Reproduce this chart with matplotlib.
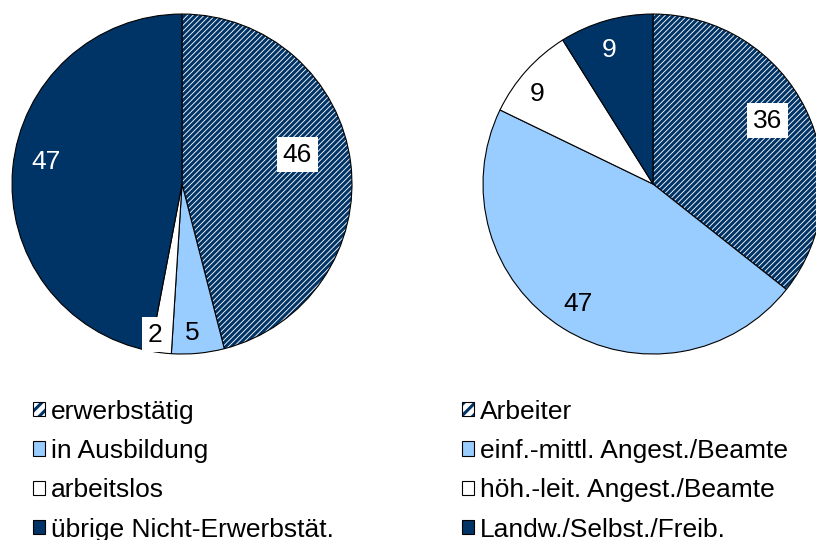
import matplotlib.pyplot as plt
import numpy as np
from matplotlib.patches import Patch
from matplotlib.colors import to_rgba

plt.rcParams['font.family'] = ['Liberation Sans', 'DejaVu Sans']
plt.rcParams['hatch.linewidth'] = 2.2

navy = '#003366'
hellblau = '#99CCFF'

# linkes Diagramm
labels_l = ['erwerbstätig', 'in Ausbildung', 'arbeitslos', 'übrige Nicht-Erwerbstät.']
werte_l = [46, 5, 2, 47]
farben_l = ['white', hellblau, 'white', navy]
hatch_l = ['//////', None, None, None]
textfarbe_l = ['black', 'black', 'black', 'white']
box_l = [True, False, True, False]
abstand_l = [0.70, 0.88, 0.90, 0.81]
winkel_l = [7, -1.6, -3, -3.7]

# rechtes Diagramm
labels_r = ['Arbeiter', 'einf.-mittl. Angest./Beamte', 'höh.-leit. Angest./Beamte', 'Landw./Selbst./Freib.']
werte_r = [36, 47, 9, 9]
farben_r = ['white', hellblau, 'white', navy]
hatch_r = ['//////', None, None, None]
textfarbe_r = ['black', 'black', 'black', 'white']
box_r = [True, False, False, False]
abstand_r = [0.77, 0.83, 0.86, 0.83]
winkel_r = [3, 0, 4, 2]

fig = plt.figure(figsize=(8.16, 5.4), dpi=100)


def torte(ax, werte, farben, hatches, textfarben, boxen, abstaende, winkel):
    wedges, _ = ax.pie(werte, colors=farben, startangle=90, counterclock=False,
                       wedgeprops=dict(edgecolor='black', linewidth=0.8))
    for w, h in zip(wedges, hatches):
        if h:
            w.set_hatch(h)
            w._hatch_color = to_rgba(navy)
    for w, v, tc, bx, d, dw in zip(wedges, werte, textfarben, boxen, abstaende, winkel):
        mitte = np.deg2rad((w.theta1 + w.theta2) / 2 + dw)
        x, y = d * np.cos(mitte), d * np.sin(mitte)
        bbox = dict(facecolor='white', edgecolor='none', pad=4) if bx else None
        ax.text(x, y, str(v), ha='center', va='center', fontsize=19, color=tc, bbox=bbox)
    ax.set_aspect('equal')
    ax.set_xlim(-1, 1)
    ax.set_ylim(-1, 1)
    return wedges


ax1 = fig.add_axes([0.0147, 0.3444, 0.4167, 0.6296])
torte(ax1, werte_l, farben_l, hatch_l, textfarbe_l, box_l, abstand_l, winkel_l)
ax2 = fig.add_axes([0.5919, 0.3444, 0.4167, 0.6296])
torte(ax2, werte_r, farben_r, hatch_r, textfarbe_r, box_r, abstand_r, winkel_r)


def legende(x, labels, farben, hatches):
    handles = []
    for l, f, h in zip(labels, farben, hatches):
        p = Patch(facecolor=f, edgecolor='black', linewidth=0.8,
                  hatch='///' if h else None, label=l)
        handles.append(p)
    leg = fig.legend(handles=handles, loc='upper left', bbox_to_anchor=(x, 0.26),
                     frameon=False, fontsize=19, handlelength=0.45, handleheight=0.45,
                     handletextpad=0.25, labelspacing=0.58, borderaxespad=0, borderpad=0)
    for p in leg.get_patches():
        if p.get_hatch():
            p._hatch_color = to_rgba(navy)
    return leg


legende(0.040, labels_l, farben_l, hatch_l)
legende(0.566, labels_r, farben_r, hatch_r)

fig.savefig('out.png', dpi=100)
